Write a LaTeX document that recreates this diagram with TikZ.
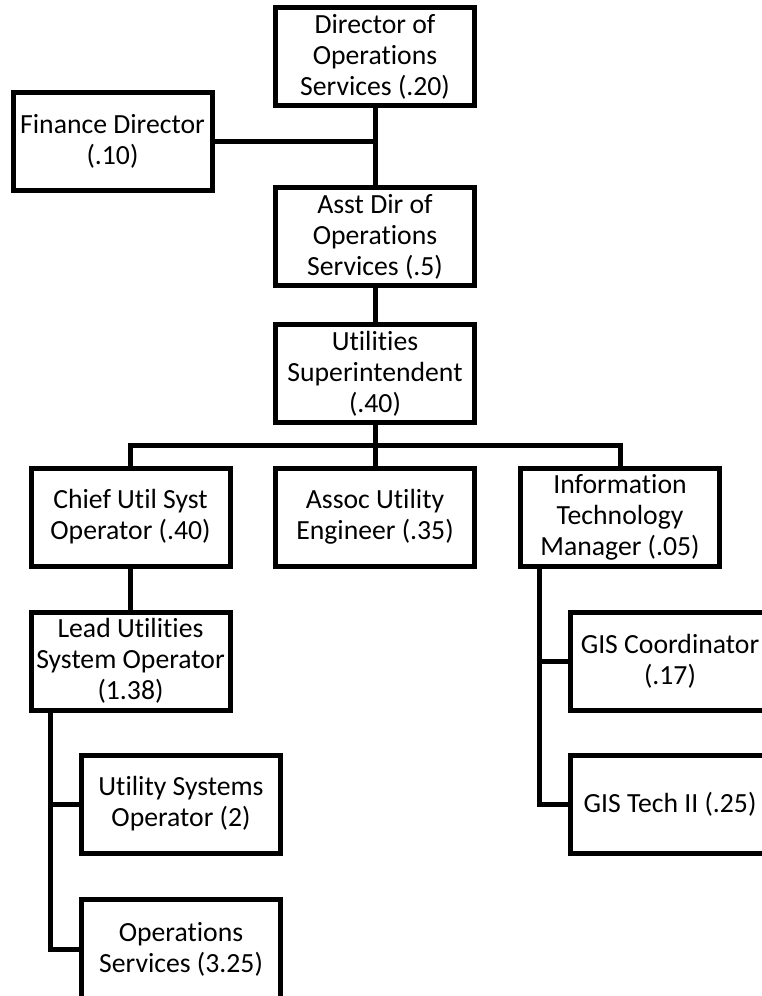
\documentclass[tikz,border=0pt]{standalone}
\usepackage{fontspec}
\setmainfont{Carlito}[Ligatures=NoCommon]
\begin{document}
\begin{tikzpicture}[x=1pt,y=-1pt,
  box/.style={draw=black, line width=5pt, minimum width=199pt, minimum height=98pt,
    inner sep=0pt, align=center, font=\fontsize{27.7}{31}\selectfont},
  conn/.style={draw=black, line width=5pt}]
\useasboundingbox (0,0) rectangle (762,996);
\clip (0,0) rectangle (762,996);
% boxes
\node[box] (dir)   at (375,56.5)  {Director of\\Operations\\Services (.20)};
\node[box] (fin)   at (112.5,141) {Finance Director\\(.10)};
\node[box] (asst)  at (375,236.5) {Asst Dir of\\Operations\\Services (.5)};
\node[box] (util)  at (375,373.5) {Utilities\\Superintendent\\(.40)};
\node[box] (chief) at (130.5,517) {Chief Util Syst\\Operator (.40)};
\node[box] (assoc) at (375,517)   {Assoc Utility\\Engineer (.35)};
\node[box] (it)    at (620,517)   {Information\\Technology\\Manager (.05)};
\node[box] (lead)  at (130.5,661) {Lead Utilities\\System Operator\\(1.38)};
\node[box] (uso)   at (181,804)   {Utility Systems\\Operator (2)};
\node[box, minimum height=100pt] (ops) at (181,949) {Operations\\Services (3.25)};
\node[box] (gisc)  at (670,661)   {GIS Coordinator\\(.17)};
\node[box] (gist)  at (670,804)   {GIS Tech II (.25)};
% helper coordinates
\coordinate (fj)  at (375,141);
\coordinate (bus) at (375,445);
\coordinate (lvx) at (50,0);
\coordinate (ivx) at (539,0);
% connectors
\draw[conn] (dir.south) -- (asst.north);
\draw[conn] (fin.east) -- (fj);
\draw[conn] (asst.south) -- (util.north);
\draw[conn] (util.south) -- (bus);
\draw[conn] (chief.north) -- (chief.north |- bus) -- (it.north |- bus) -- (it.north);
\draw[conn] (bus) -- (assoc.north);
\draw[conn] (chief.south) -- (lead.north);
\draw[conn] (lead.south -| lvx) |- (ops.west);
\draw[conn] (lead.south -| lvx) |- (uso.west);
\draw[conn] (it.south -| ivx) |- (gist.west);
\draw[conn] (it.south -| ivx) |- (gisc.west);
\end{tikzpicture}
\end{document}
